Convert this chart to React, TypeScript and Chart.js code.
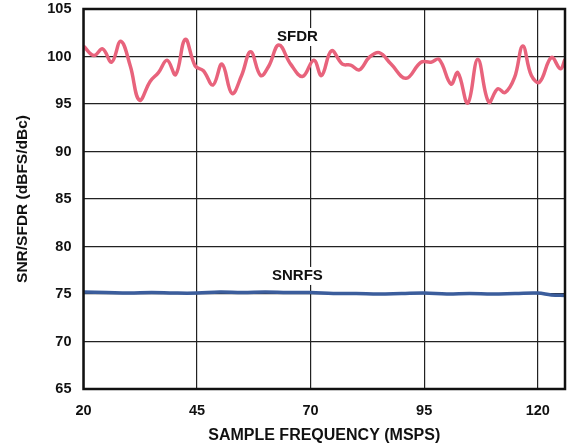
import React, { useEffect, useRef } from "react";
import { Chart, registerables } from "chart.js";

Chart.register(...registerables);

const sfdrFreq = [20, 22.3, 24.2, 26.2, 28.2, 30.3, 32.3, 34.7, 36.5, 38.4, 40.3, 42.4, 44.6, 46.4, 48.5, 50.5, 52.7, 54.8, 56.8, 59.0, 60.8, 63.0, 65.6, 68.2, 70.7, 72.4, 74.6, 77.0, 78.8, 80.7, 82.9, 85.1, 87.7, 91.0, 94.3, 96.5, 98.3, 100.9, 102.4, 104.6, 106.8, 109.2, 111.2, 112.8, 114.9, 116.7, 118.6, 120.4, 123.0, 125.0, 126.0];
const sfdrValues = [101.1, 100.1, 100.8, 99.4, 101.6, 99.0, 95.4, 97.4, 98.3, 99.6, 98.1, 101.8, 99.0, 98.5, 97.0, 99.2, 96.1, 98.0, 100.5, 98.0, 99.0, 101.2, 99.2, 97.9, 99.6, 98.0, 100.6, 99.2, 99.1, 98.6, 99.9, 100.4, 99.2, 97.7, 99.4, 99.4, 99.7, 97.1, 98.3, 95.1, 99.7, 95.2, 96.6, 96.2, 97.8, 101.1, 98.0, 97.3, 99.9, 98.7, 99.7];

const snrFreq = [20, 25, 30, 35, 40, 45, 50, 55, 60, 65, 70, 75, 80, 85, 90, 95, 100, 105, 110, 115, 120, 123, 126];
const snrValues = [75.2, 75.15, 75.1, 75.15, 75.1, 75.1, 75.2, 75.15, 75.2, 75.15, 75.15, 75.05, 75.05, 75.0, 75.05, 75.1, 75.0, 75.05, 75.0, 75.05, 75.1, 74.9, 74.85];

const xTicks = [20, 45, 70, 95, 120];
const yTicks = [65, 70, 75, 80, 85, 90, 95, 100, 105];

const seriesLabels = [
  { text: "SFDR", x: 67.1, y: 102.05 },
  { text: "SNRFS", x: 67.1, y: 76.9 },
];

const FONT = "'Liberation Sans', Arial, sans-serif";

export default function App() {
  const ref = useRef<HTMLCanvasElement | null>(null);

  useEffect(() => {
    if (!ref.current) return;
    const labelPlugin = {
      id: "labels",
      beforeDatasetsDraw(chart: any) {
        const ctx = chart.ctx;
        const xs = chart.scales.x;
        const ys = chart.scales.y;
        ctx.save();
        ctx.font = `bold 15px ${FONT}`;
        ctx.textAlign = "center";
        ctx.textBaseline = "middle";
        for (const l of seriesLabels) {
          const px = xs.getPixelForValue(l.x);
          const py = ys.getPixelForValue(l.y);
          const w = ctx.measureText(l.text).width;
          ctx.fillStyle = "#ffffff";
          ctx.fillRect(px - w / 2 - 3, py - 9, w + 6, 18);
          ctx.fillStyle = "#111111";
          ctx.fillText(l.text, px, py);
        }
        ctx.restore();
      },
      afterDraw(chart: any) {
        const { left, right, top, bottom } = chart.chartArea;
        const ctx = chart.ctx;
        ctx.save();
        ctx.strokeStyle = "#111111";
        ctx.lineWidth = 2.5;
        ctx.strokeRect(left, top, right - left, bottom - top);
        ctx.restore();
      },
    };

    const chart = new Chart(ref.current, {
      type: "line",
      data: {
        datasets: [
          {
            label: "SFDR",
            data: sfdrFreq.map((f, i) => ({ x: f, y: sfdrValues[i] })),
            borderColor: "#e8637c",
            borderWidth: 3.5,
            pointRadius: 0,
            tension: 0.4,
          },
          {
            label: "SNRFS",
            data: snrFreq.map((f, i) => ({ x: f, y: snrValues[i] })),
            borderColor: "#3b5d9c",
            borderWidth: 3.5,
            pointRadius: 0,
            tension: 0.4,
          },
        ],
      },
      options: {
        animation: false,
        responsive: false,
        maintainAspectRatio: false,
        layout: { padding: { top: 9, right: 3, left: 0, bottom: 0 } },
        plugins: { legend: { display: false }, tooltip: { enabled: false } },
        scales: {
          x: {
            type: "linear",
            min: 20,
            max: 126,
            afterBuildTicks: (s: any) => {
              s.ticks = xTicks.map((v) => ({ value: v }));
            },
            afterFit: (s: any) => {
              s.height = 59;
              s.paddingLeft = 0;
              s.paddingRight = 0;
            },
            grid: { color: "#222222", lineWidth: 1.2, drawTicks: false },
            border: { display: false },
            ticks: {
              color: "#111111",
              padding: 13,
              font: { family: FONT, size: 14.5, weight: "bold" },
              maxRotation: 0,
            },
            title: {
              display: true,
              text: "SAMPLE FREQUENCY (MSPS)",
              color: "#111111",
              font: { family: FONT, size: 16, weight: "bold" },
              padding: { top: 4, bottom: 3 },
            },
          },
          y: {
            type: "linear",
            min: 65,
            max: 105,
            afterBuildTicks: (s: any) => {
              s.ticks = yTicks.map((v) => ({ value: v }));
            },
            afterFit: (s: any) => {
              s.width = 83.5;
              s.paddingTop = 0;
              s.paddingBottom = 0;
            },
            grid: { color: "#222222", lineWidth: 1.2, drawTicks: false },
            border: { display: false },
            ticks: {
              color: "#111111",
              padding: 12,
              font: { family: FONT, size: 14.5, weight: "bold" },
            },
            title: {
              display: true,
              text: "SNR/SFDR (dBFS/dBc)",
              color: "#111111",
              font: { family: FONT, size: 15.5, weight: "bold" },
              padding: { top: 13, bottom: 0 },
            },
          },
        },
      },
      plugins: [labelPlugin],
    } as any);
    return () => chart.destroy();
  }, []);

  return (
    <div style={{ position: "fixed", left: 0, top: 0, width: 568, height: 448, background: "#fff" }}>
      <canvas ref={ref} width={568} height={448} style={{ width: 568, height: 448 }} />
    </div>
  );
}
